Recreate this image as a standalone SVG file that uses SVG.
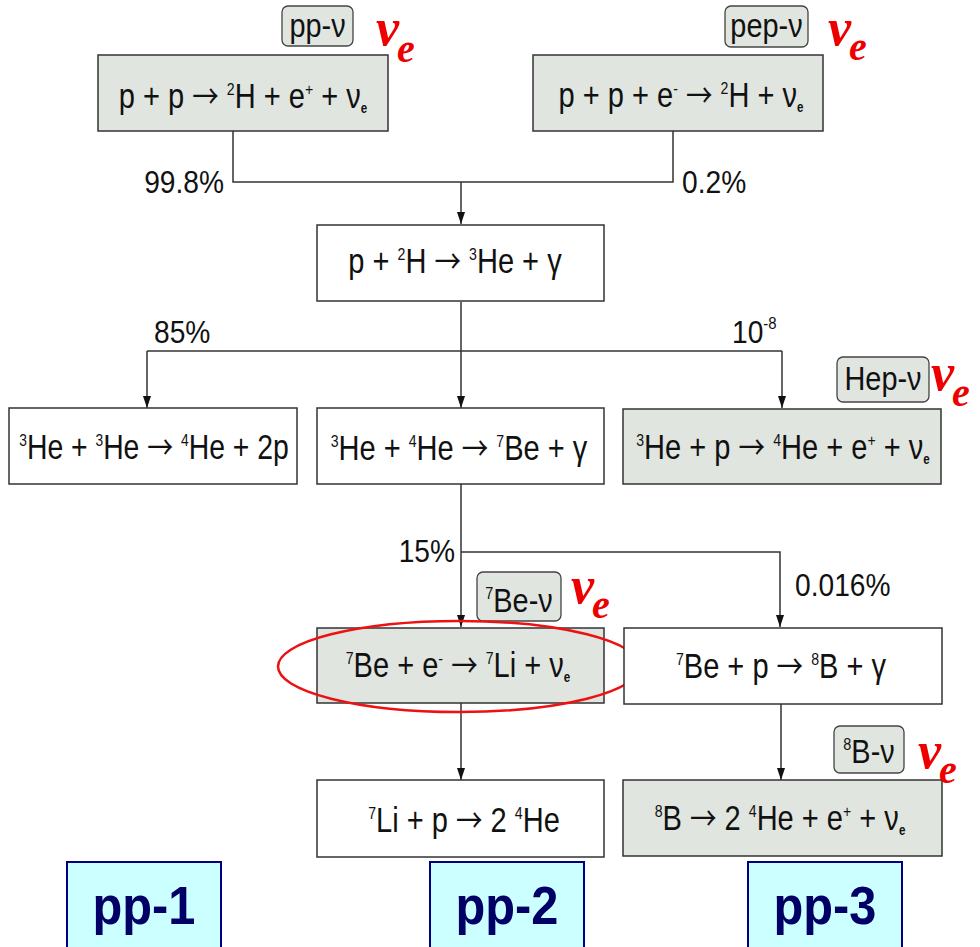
<svg xmlns="http://www.w3.org/2000/svg" width="980" height="947" viewBox="0 0 980 947">
<defs>
<style>
.box{stroke:#333;stroke-width:1.5}
.g{fill:#e0e5e0}
.w{fill:#ffffff}
.pill{fill:#e0e5e0;stroke:#444;stroke-width:1.3}
.t{font-family:"Liberation Sans",Arial,sans-serif;font-size:35px;fill:#111;text-anchor:middle}
.pt{font-family:"Liberation Sans",Arial,sans-serif;font-size:34px;fill:#111;text-anchor:middle}
.lab{font-family:"Liberation Sans",Arial,sans-serif;font-size:32px;fill:#111}
.s{font-size:17px}
.b{font-size:14px;font-weight:bold}
.ar{font-family:"Noto Sans CJK SC","DejaVu Sans",sans-serif;font-size:32px}
.nu{font-family:"Liberation Serif","Times New Roman",serif;font-style:italic;font-weight:bold;fill:#ee0000;font-size:52px}
.nue{font-size:40px}
.pp{fill:#ccffff;stroke:#000080;stroke-width:2}
.ppt{font-family:"Liberation Sans",Arial,sans-serif;font-weight:bold;font-size:53px;fill:#000066;text-anchor:middle}
.c{fill:none;stroke:#333;stroke-width:1.5}
</style>
<marker id="ah" viewBox="0 0 8 12" refX="4" refY="12" markerWidth="8" markerHeight="12" markerUnits="userSpaceOnUse" orient="0">
<path d="M0,0 L8,0 L4,12 z" fill="#111"/>
</marker>
</defs>
<rect width="980" height="947" fill="#ffffff"/>

<g id="connectors">
<path class="c" d="M233,131 V182 H673 V131"/>
<path class="c" d="M461,182 V224" marker-end="url(#ah)"/>
<path class="c" d="M461,302 V408" marker-end="url(#ah)"/>
<path class="c" d="M147,351 H782"/>
<path class="c" d="M147,351 V408" marker-end="url(#ah)"/>
<path class="c" d="M782,351 V408" marker-end="url(#ah)"/>
<path class="c" d="M461,484 V627" marker-end="url(#ah)"/>
<path class="c" d="M461,552 H780 V627" marker-end="url(#ah)"/>
<path class="c" d="M461,703 V780" marker-end="url(#ah)"/>
<path class="c" d="M781,704 V780" marker-end="url(#ah)"/>
</g>

<g id="labels">
<text class="lab" text-anchor="end" transform="translate(224,193) scale(0.88,1)">99.8%</text>
<text class="lab" transform="translate(682,193) scale(0.88,1)">0.2%</text>
<text class="lab" transform="translate(154,343) scale(0.88,1)">85%</text>
<text class="lab" transform="translate(732,343) scale(0.88,1)">10<tspan class="s" dy="-14">-8</tspan></text>
<text class="lab" text-anchor="end" transform="translate(455,562) scale(0.88,1)">15%</text>
<text class="lab" transform="translate(795,596) scale(0.88,1)">0.016%</text>
</g>

<g id="n-pp">
<rect class="box g" x="98" y="55" width="290" height="76"/>
<text class="t" transform="translate(243,108) scale(0.83,1)">p + p <tspan class="ar">→</tspan> <tspan class="s" dy="-13">2</tspan><tspan dy="13">H + e</tspan><tspan class="s" dy="-13">+</tspan><tspan dy="13"> + ν</tspan><tspan class="b" dy="5">e</tspan></text>
</g>
<g id="tag-pp">
<rect class="pill" x="282" y="6" width="71" height="40" rx="6"/>
<text class="pt" transform="translate(317.5,37) scale(0.85,1)">pp-ν</text>
<text class="nu" x="376" y="45">ν<tspan class="nue" dx="-2" dy="17">e</tspan></text>
</g>

<g id="n-pep">
<rect class="box g" x="533" y="55" width="290" height="76"/>
<text class="t" transform="translate(681,107) scale(0.83,1)">p + p + e<tspan class="s" dy="-13">-</tspan><tspan dy="13"> </tspan><tspan class="ar">→</tspan> <tspan class="s" dy="-13">2</tspan><tspan dy="13">H + ν</tspan><tspan class="b" dy="5">e</tspan></text>
</g>
<g id="tag-pep">
<rect class="pill" x="725" y="6" width="83" height="41" rx="6"/>
<text class="pt" transform="translate(766.5,37) scale(0.85,1)">pep-ν</text>
<text class="nu" x="828" y="45">ν<tspan class="nue" dx="-2" dy="15">e</tspan></text>
</g>

<g id="n-pd">
<rect class="box w" x="317" y="225" width="287" height="76"/>
<text class="t" transform="translate(455,273) scale(0.83,1)">p + <tspan class="s" dy="-13">2</tspan><tspan dy="13">H </tspan><tspan class="ar">→</tspan> <tspan class="s" dy="-13">3</tspan><tspan dy="13">He + γ</tspan></text>
</g>

<g id="n-he3he3">
<rect class="box w" x="9" y="408" width="288" height="76"/>
<text class="t" transform="translate(154,459) scale(0.81,1)"><tspan class="s" dy="-13">3</tspan><tspan dy="13">He + </tspan><tspan class="s" dy="-13">3</tspan><tspan dy="13">He </tspan><tspan class="ar">→</tspan> <tspan class="s" dy="-13">4</tspan><tspan dy="13">He + 2p</tspan></text>
</g>

<g id="n-he3he4">
<rect class="box w" x="317" y="408" width="287" height="76"/>
<text class="t" transform="translate(459,460) scale(0.83,1)"><tspan class="s" dy="-13">3</tspan><tspan dy="13">He + </tspan><tspan class="s" dy="-13">4</tspan><tspan dy="13">He </tspan><tspan class="ar">→</tspan> <tspan class="s" dy="-13">7</tspan><tspan dy="13">Be + γ</tspan></text>
</g>

<g id="n-hep">
<rect class="box g" x="623" y="409" width="318" height="75"/>
<text class="t" transform="translate(783,459) scale(0.83,1)"><tspan class="s" dy="-13">3</tspan><tspan dy="13">He + p </tspan><tspan class="ar">→</tspan> <tspan class="s" dy="-13">4</tspan><tspan dy="13">He + e</tspan><tspan class="s" dy="-13">+</tspan><tspan dy="13"> + ν</tspan><tspan class="b" dy="5">e</tspan></text>
</g>
<g id="tag-hep">
<rect class="pill" x="837" y="357" width="92" height="45" rx="6"/>
<text class="pt" transform="translate(883,390) scale(0.85,1)">Hep-ν</text>
<text class="nu" x="931" y="390">ν<tspan class="nue" dx="-2" dy="16">e</tspan></text>
</g>

<g id="n-be7e">
<rect class="box g" x="317" y="628" width="287" height="75"/>
<text class="t" transform="translate(458,677) scale(0.83,1)"><tspan class="s" dy="-13">7</tspan><tspan dy="13">Be + e</tspan><tspan class="s" dy="-13">-</tspan><tspan dy="13"> </tspan><tspan class="ar">→</tspan> <tspan class="s" dy="-13">7</tspan><tspan dy="13">Li + ν</tspan><tspan class="b" dy="5">e</tspan></text>
</g>
<g id="tag-be7">
<rect class="pill" x="477" y="572" width="84" height="49" rx="6"/>
<text class="pt" transform="translate(519,612) scale(0.85,1)"><tspan class="s" dy="-13">7</tspan><tspan dy="13">Be-ν</tspan></text>
<text class="nu" x="571" y="603">ν<tspan class="nue" dx="-2" dy="15">e</tspan></text>
</g>
<ellipse id="highlight" cx="459" cy="666.5" rx="181" ry="45.5" fill="none" stroke="#ee1111" stroke-width="2.5"/>

<g id="n-be7p">
<rect class="box w" x="624" y="628" width="318" height="76"/>
<text class="t" transform="translate(781,678) scale(0.83,1)"><tspan class="s" dy="-13">7</tspan><tspan dy="13">Be + p </tspan><tspan class="ar">→</tspan> <tspan class="s" dy="-13">8</tspan><tspan dy="13">B + γ</tspan></text>
</g>

<g id="n-li7p">
<rect class="box w" x="317" y="780" width="287" height="77"/>
<text class="t" transform="translate(464,832) scale(0.83,1)"><tspan class="s" dy="-13">7</tspan><tspan dy="13">Li + p </tspan><tspan class="ar">→</tspan> 2 <tspan class="s" dy="-13">4</tspan><tspan dy="13">He</tspan></text>
</g>

<g id="n-b8">
<rect class="box g" x="623" y="780" width="319" height="76"/>
<text class="t" transform="translate(780,830) scale(0.83,1)"><tspan class="s" dy="-13">8</tspan><tspan dy="13">B </tspan><tspan class="ar">→</tspan> 2 <tspan class="s" dy="-13">4</tspan><tspan dy="13">He + e</tspan><tspan class="s" dy="-13">+</tspan><tspan dy="13"> + ν</tspan><tspan class="b" dy="5">e</tspan></text>
</g>
<g id="tag-b8">
<rect class="pill" x="834" y="726" width="70" height="47" rx="6"/>
<text class="pt" transform="translate(869,763) scale(0.85,1)"><tspan class="s" dy="-13">8</tspan><tspan dy="13">B-ν</tspan></text>
<text class="nu" x="918" y="768">ν<tspan class="nue" dx="-2" dy="15">e</tspan></text>
</g>

<g id="pp1">
<rect class="pp" x="67" y="862" width="154" height="90"/>
<text class="ppt" transform="translate(144,924) scale(0.92,1)">pp-1</text>
</g>
<g id="pp2">
<rect class="pp" x="430" y="862" width="154" height="90"/>
<text class="ppt" transform="translate(507,924) scale(0.92,1)">pp-2</text>
</g>
<g id="pp3">
<rect class="pp" x="748" y="862" width="154" height="90"/>
<text class="ppt" transform="translate(825,924) scale(0.92,1)">pp-3</text>
</g>
</svg>
